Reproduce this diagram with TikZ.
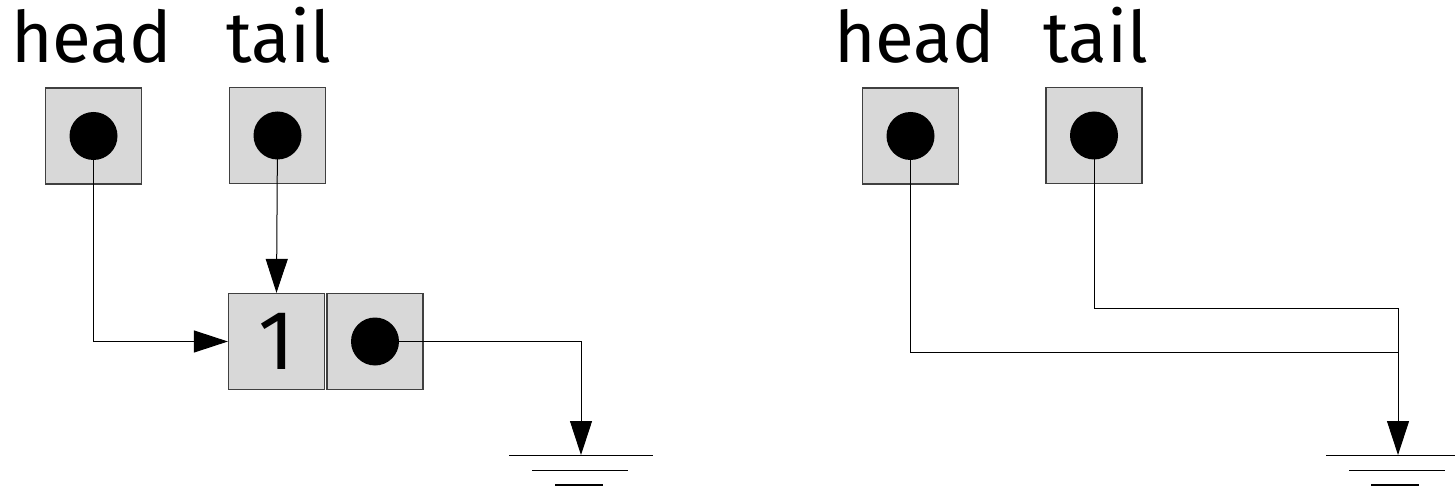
\documentclass[tikz,border=0pt]{standalone}
\usepackage{fontspec}
\setmainfont{Fira Sans}
\usetikzlibrary{arrows.meta}
\definecolor{cellgray}{HTML}{D8D8D8}
\definecolor{cellborder}{HTML}{404040}
\tikzset{
  cell/.style={draw=cellborder, fill=cellgray, line width=1.2pt, minimum size=96pt, inner sep=0pt},
  dot/.style={circle, fill=black, minimum size=48pt, inner sep=0pt},
  label/.style={anchor=base west, inner sep=0pt, font=\fontsize{71}{74}\selectfont},
  wire/.style={line width=1pt},
  ptr/.style={wire, -{Triangle[length=34pt,width=22pt]}},
  earth/.style={line width=1.2pt},
}
\begin{document}
\begin{tikzpicture}[x=1pt, y=-1pt]
\useasboundingbox (0,0) rectangle (1455,486);

% ---- list with one element ----
\node[label] (lhead) at (11,63) {head};
\node[label] (ltail) at (226,63) {tail};
\node[cell] (lhbox) at (93.5,136) {};
\node[cell] (ltbox) at (277.5,135.5) {};
\node[dot] (lhdot) at (lhbox.center) {};
\node[dot] (ltdot) at (ltbox.center) {};
\node[cell, font=\fontsize{84}{86}\selectfont] (val) at (276.5,341.5) {1};
\node[cell] (nxt) at (375,341.5) {};
\node[dot] (nxdot) at (nxt.center) {};
\coordinate (lgnd) at (581,455);

\draw[ptr] (lhdot.center) |- (val.west);
\draw[ptr] (ltdot.center) -- (val.north);
\draw[ptr] (nxdot.center) -| (lgnd);
\draw[earth] (509,455.5) -- (653,455.5)
             (532,470.5) -- (628,470.5)
             (555,485) -- (603,485);

% ---- empty list ----
\node[label] (rhead) at (834,63) {head};
\node[label] (rtail) at (1043,63) {tail};
\node[cell] (rhbox) at (910.5,136) {};
\node[cell] (rtbox) at (1094,135.5) {};
\node[dot] (rhdot) at (rhbox.center) {};
\node[dot] (rtdot) at (rtbox.center) {};
\coordinate (rjoin1) at (1398,308);
\coordinate (rjoin2) at (1398,352);
\coordinate (rgnd) at (1398,455);

\draw[wire] (rtdot.center) |- (rjoin1);
\draw[wire] (rhdot.center) |- (rjoin2);
\draw[ptr] (rjoin1) -- (rgnd);
\draw[earth] (1326,455.5) -- (1455,455.5)
             (1349,470.5) -- (1445,470.5)
             (1371,485) -- (1419,485);
\end{tikzpicture}
\end{document}
